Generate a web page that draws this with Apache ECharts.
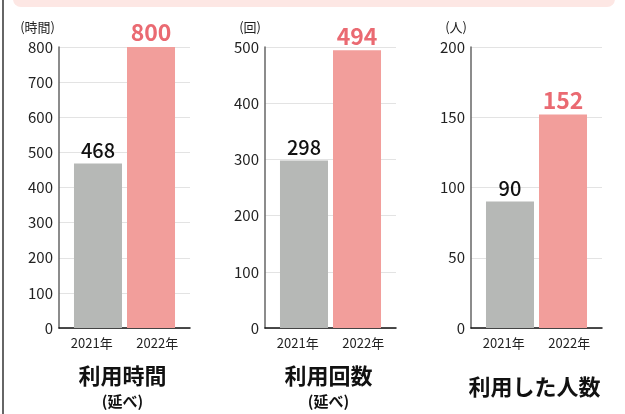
<!DOCTYPE html>
<html>
<head>
<meta charset="utf-8">
<script src="https://cdn.jsdelivr.net/npm/echarts@6/dist/echarts.min.js"></script>
<style>
  html, body { margin: 0; padding: 0; background: #fff; }
  #main { width: 625px; height: 414px; }
</style>
</head>
<body>
<div id="main"></div>
<script>
const years = ['2021年', '2022年'];
const hours = [468, 800];
const counts = [298, 494];
const users = [90, 152];

const units = ['(時間)', '(回)', '(人)'];
const axisMax = [800, 500, 200];
const axisStep = [100, 100, 50];
const titles = ['利用時間', '利用回数', '利用した人数'];
const subtitles = ['(延べ)', '(延べ)', ''];

const panels = [hours, counts, users];
const gridLeft = [59, 265, 471];
const gridWidth = 131;

const chart = echarts.init(document.getElementById('main'));
const font = '"Noto Sans CJK JP", "Noto Sans", sans-serif';

let grids = [], xAxes = [], yAxes = [], series = [], graphics = [];

panels.forEach(function (vals, i) {
    grids.push({ left: gridLeft[i], width: gridWidth, top: 47, bottom: 86 });
    xAxes.push({
        type: 'category',
        gridIndex: i,
        data: years,
        axisLine: { lineStyle: { color: '#111', width: 1.5 } },
        axisTick: { show: false },
        axisLabel: { color: '#222', fontSize: 13, fontFamily: font, margin: 9 }
    });
    yAxes.push({
        type: 'value',
        gridIndex: i,
        min: 0,
        max: axisMax[i],
        interval: axisStep[i],
        name: units[i],
        nameLocation: 'end',
        nameGap: 13,
        nameTextStyle: { color: '#222', fontSize: 13, fontFamily: font, align: 'right', padding: [0, 4, 0, 0] },
        axisLine: { show: true, lineStyle: { color: '#666', width: 1.5 } },
        axisTick: { show: false },
        axisLabel: { color: '#222', fontSize: 15, fontFamily: font, margin: 6 },
        splitLine: { lineStyle: { color: '#e3e3e3', width: 1.2 } }
    });
    // 2022 bar goes in the left slot, 2021 in the right slot, pulling both toward the middle
    series.push({
        type: 'bar',
        xAxisIndex: i,
        yAxisIndex: i,
        data: ['-', vals[1]],
        barWidth: 48,
        barGap: '-74%',
        itemStyle: { color: '#f29e9b' },
        label: {
            show: true, position: 'top', distance: 3,
            color: '#ea6a72', fontSize: 23, fontWeight: 'bold', fontFamily: font
        }
    });
    series.push({
        type: 'bar',
        xAxisIndex: i,
        yAxisIndex: i,
        data: [vals[0], '-'],
        barWidth: 48,
        barGap: '-74%',
        itemStyle: { color: '#b6b8b6' },
        label: {
            show: true, position: 'top', distance: 3,
            color: '#111', fontSize: 20, fontWeight: 500, fontFamily: font
        }
    });

    const cx = gridLeft[i] + gridWidth / 2 - 2;
    graphics.push({
        type: 'text',
        x: cx, y: subtitles[i] ? 376 : 387,
        style: {
            text: titles[i], fill: '#111', font: 'bold 22px ' + font,
            textAlign: 'center', textVerticalAlign: 'middle'
        }
    });
    if (subtitles[i]) {
        graphics.push({
            type: 'text',
            x: cx, y: 401,
            style: {
                text: subtitles[i], fill: '#111', font: 'bold 15px ' + font,
                textAlign: 'center', textVerticalAlign: 'middle'
            }
        });
    }
});

// pink header strip and left frame line
graphics.push({
    type: 'rect',
    shape: { x: 13, y: -12, width: 602, height: 19, r: 8 },
    style: { fill: '#fde7e4' }
});
graphics.push({
    type: 'rect',
    shape: { x: 2, y: 0, width: 2, height: 414 },
    style: { fill: '#666' }
});

chart.setOption({
    animation: false,
    grid: grids,
    xAxis: xAxes,
    yAxis: yAxes,
    series: series,
    graphic: graphics
});
</script>
</body>
</html>
